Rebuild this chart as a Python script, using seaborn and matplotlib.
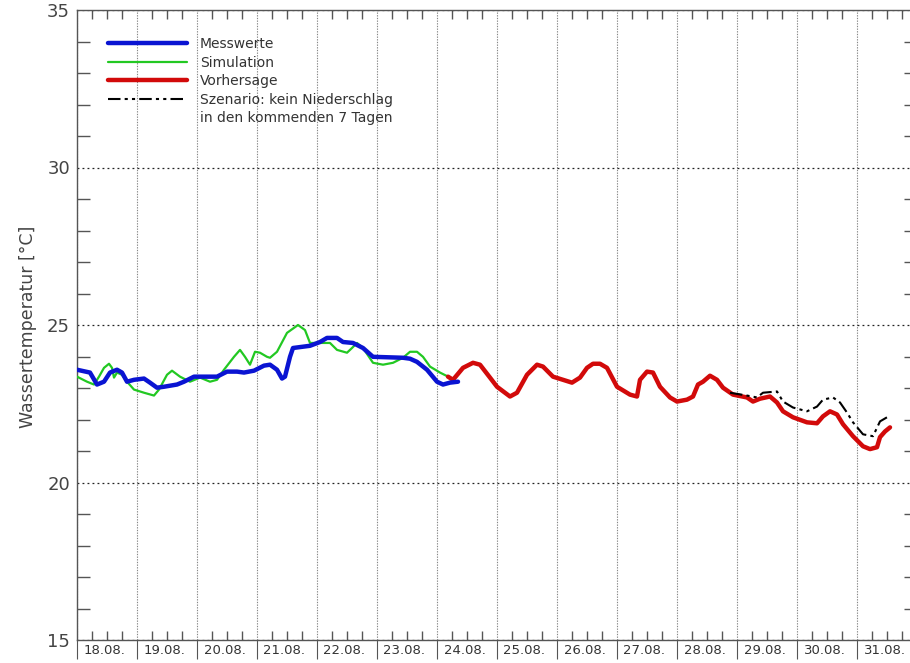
import numpy as np
import pandas as pd
import matplotlib
matplotlib.use("Agg")
import matplotlib.pyplot as plt
import matplotlib.transforms as mtransforms
from matplotlib.lines import Line2D
from matplotlib.ticker import MultipleLocator, FixedLocator
import seaborn as sns

# data: hours since 18.08. 00:00, water temperature in degC
mess_h = [0, 5.2, 8, 10.8, 13.2, 16, 18, 20, 22.8, 26.8, 29.2, 32, 34.8, 40, 42.8, 46.8,
          56, 60, 64, 66.8, 70.8, 74.8, 77.2, 80, 82, 83.2, 85.2, 86.4, 93.2, 97.2, 100,
          104, 106.4, 110.4, 114.4, 118.4, 130.4, 133.2, 136, 140, 144, 146.4, 149.2, 152.4]
mess_t = [23.58, 23.49, 23.11, 23.20, 23.49, 23.58, 23.49, 23.20, 23.26, 23.30, 23.17, 23.01,
          23.04, 23.11, 23.20, 23.36, 23.36, 23.52, 23.52, 23.49, 23.55, 23.71, 23.74, 23.58,
          23.30, 23.36, 23.99, 24.27, 24.34, 24.46, 24.59, 24.59, 24.46, 24.43, 24.27, 23.99,
          23.96, 23.93, 23.83, 23.58, 23.20, 23.11, 23.17, 23.20]

sim_h = [0, 4, 6.8, 8.8, 10.8, 12.8, 14, 14.8, 16, 18, 20, 22.8, 26.8, 30.8, 32.8, 36, 38,
         41.2, 45.2, 49.2, 53.2, 56, 58.8, 62.8, 65.2, 67.2, 69.2, 71.2, 73.2, 76, 77.2, 80,
         84, 88.4, 91.2, 93.2, 97.2, 101.2, 104, 108, 110, 112, 114.4, 118.4, 122.4, 126.4,
         130.4, 133.2, 136, 138.4, 141.2, 145.2, 149.2]
sim_t = [23.36, 23.20, 23.11, 23.36, 23.64, 23.77, 23.64, 23.33, 23.49, 23.42, 23.20, 22.95,
         22.85, 22.76, 22.95, 23.42, 23.55, 23.36, 23.20, 23.33, 23.20, 23.26, 23.58, 23.99,
         24.21, 23.99, 23.74, 24.15, 24.12, 23.99, 23.96, 24.15, 24.75, 25.00, 24.84, 24.43,
         24.43, 24.43, 24.21, 24.12, 24.27, 24.43, 24.27, 23.80, 23.74, 23.80, 23.96, 24.15,
         24.15, 23.99, 23.68, 23.49, 23.33]

vor_h = [148.4, 150.4, 154.4, 158.4, 161.2, 165.2, 168, 173.2, 176, 180, 184, 186.4, 190.4,
         194.4, 198, 201.2, 204, 206.4, 209.2, 212, 216, 221.2, 224, 225.2, 228, 230.4, 233.2,
         237.2, 240, 244, 246.4, 248.4, 250.4, 253.2, 256, 258.4, 262.4, 268, 270.4, 273.2,
         277.2, 280, 282.4, 286.4, 292, 296, 298.4, 301.2, 304, 306.4, 310.4, 314.4, 317.2,
         320, 321.2, 323.2, 325.2]
vor_t = [23.36, 23.26, 23.64, 23.80, 23.74, 23.33, 23.04, 22.73, 22.85, 23.42, 23.74, 23.68,
         23.36, 23.26, 23.17, 23.33, 23.64, 23.77, 23.77, 23.64, 23.04, 22.79, 22.73, 23.26,
         23.52, 23.49, 23.04, 22.70, 22.57, 22.63, 22.73, 23.11, 23.20, 23.39, 23.26, 23.01,
         22.79, 22.70, 22.57, 22.66, 22.73, 22.54, 22.26, 22.07, 21.91, 21.88, 22.10, 22.26,
         22.16, 21.85, 21.47, 21.15, 21.06, 21.12, 21.44, 21.62, 21.75]

szen_h = [261.2, 268, 272, 274.4, 280, 282.4, 286.4, 292, 296, 298.4, 302.4, 305.2, 308,
          310.4, 314.4, 318.4, 321.2, 324, 325.2]
szen_t = [22.85, 22.76, 22.70, 22.85, 22.89, 22.57, 22.38, 22.26, 22.41, 22.63, 22.70, 22.54,
          22.22, 21.91, 21.53, 21.47, 21.94, 22.07, 22.10]

days = ["18.08.", "19.08.", "20.08.", "21.08.", "22.08.", "23.08.", "24.08.",
        "25.08.", "26.08.", "27.08.", "28.08.", "29.08.", "30.08.", "31.08."]

sns.set_style("white")
plt.rcParams['font.family'] = ['DejaVu Sans']

W, H = 910, 663
fig = plt.figure(figsize=(W / 100, H / 100), dpi=100)
ax = fig.add_axes([77 / W, 23 / H, 840 / W, 630 / H])

sns.lineplot(x=mess_h, y=mess_t, ax=ax, color="#0a14d2", linewidth=3.2,
             label="Messwerte", sort=False, estimator=None, zorder=4)
sns.lineplot(x=sim_h, y=sim_t, ax=ax, color="#22c822", linewidth=1.6,
             label="Simulation", sort=False, estimator=None, zorder=3)
sns.lineplot(x=vor_h, y=vor_t, ax=ax, color="#d20a0a", linewidth=3.2,
             label="Vorhersage", sort=False, estimator=None, zorder=3)
sns.lineplot(x=szen_h, y=szen_t, ax=ax, color="black", linewidth=1.5,
             linestyle=(0, (6, 2, 1.5, 2, 1.5, 2)),
             label="Szenario: kein Niederschlag",
             sort=False, estimator=None, zorder=3)

ax.set_xlim(0, 24 * len(days))
ax.set_ylim(15, 35)

# x axis: day boundaries as separators below, 6 h ticks inside
ax.xaxis.set_major_locator(MultipleLocator(24))
ax.xaxis.set_minor_locator(FixedLocator([d * 24 + h for d in range(len(days)) for h in (6, 12, 18)]))
ax.tick_params(axis="x", which="major", direction="out", length=14, width=0.8,
               color="#555555", labelbottom=False, bottom=True, top=False)
ax.tick_params(axis="x", which="minor", direction="in", length=6.5, width=1.0,
               color="#555555", top=True, bottom=True)
trans = mtransforms.blended_transform_factory(ax.transData, ax.transAxes)
for i, d in enumerate(days):
    ax.text(i * 24 + 11, -0.007, d, transform=trans, ha="center", va="top",
            fontsize=9.5, color="#333333")

# y axis
ax.yaxis.set_major_locator(MultipleLocator(5))
ax.yaxis.set_minor_locator(MultipleLocator(1))
ax.tick_params(axis="y", which="major", length=0, pad=5, labelsize=13, labelcolor="#444444")
ax.tick_params(axis="y", which="minor", direction="in", length=9.5, width=1.0,
               color="#555555", left=True, right=True)

ax.grid(True, axis="x", which="major", linestyle=(0, (1.2, 1.2)), color="#888888", linewidth=0.8)
ax.grid(True, axis="y", which="major", linestyle=(0, (1.5, 2.5)), color="#222222", linewidth=0.9)

for s in ax.spines.values():
    s.set_color("#555555")
    s.set_linewidth(1.0)

fig.text(28 / W, 1 - 327 / H, "Wassertemperatur [°C]", rotation=90, ha="center", va="center",
         fontsize=12.5, color="#444444")

handles, labels = ax.get_legend_handles_labels()
handles.append(Line2D([], [], linestyle="none"))
labels.append("in den kommenden 7 Tagen")
leg = ax.legend(handles, labels, loc="upper left", bbox_to_anchor=(31 / 840, 1 - 27 / 630),
                frameon=False, fontsize=10, handlelength=5.7, handletextpad=0.9,
                labelspacing=0.33, borderpad=0, borderaxespad=0)
for t in leg.get_texts():
    t.set_color("#333333")

fig.savefig("out.png", dpi=100)
